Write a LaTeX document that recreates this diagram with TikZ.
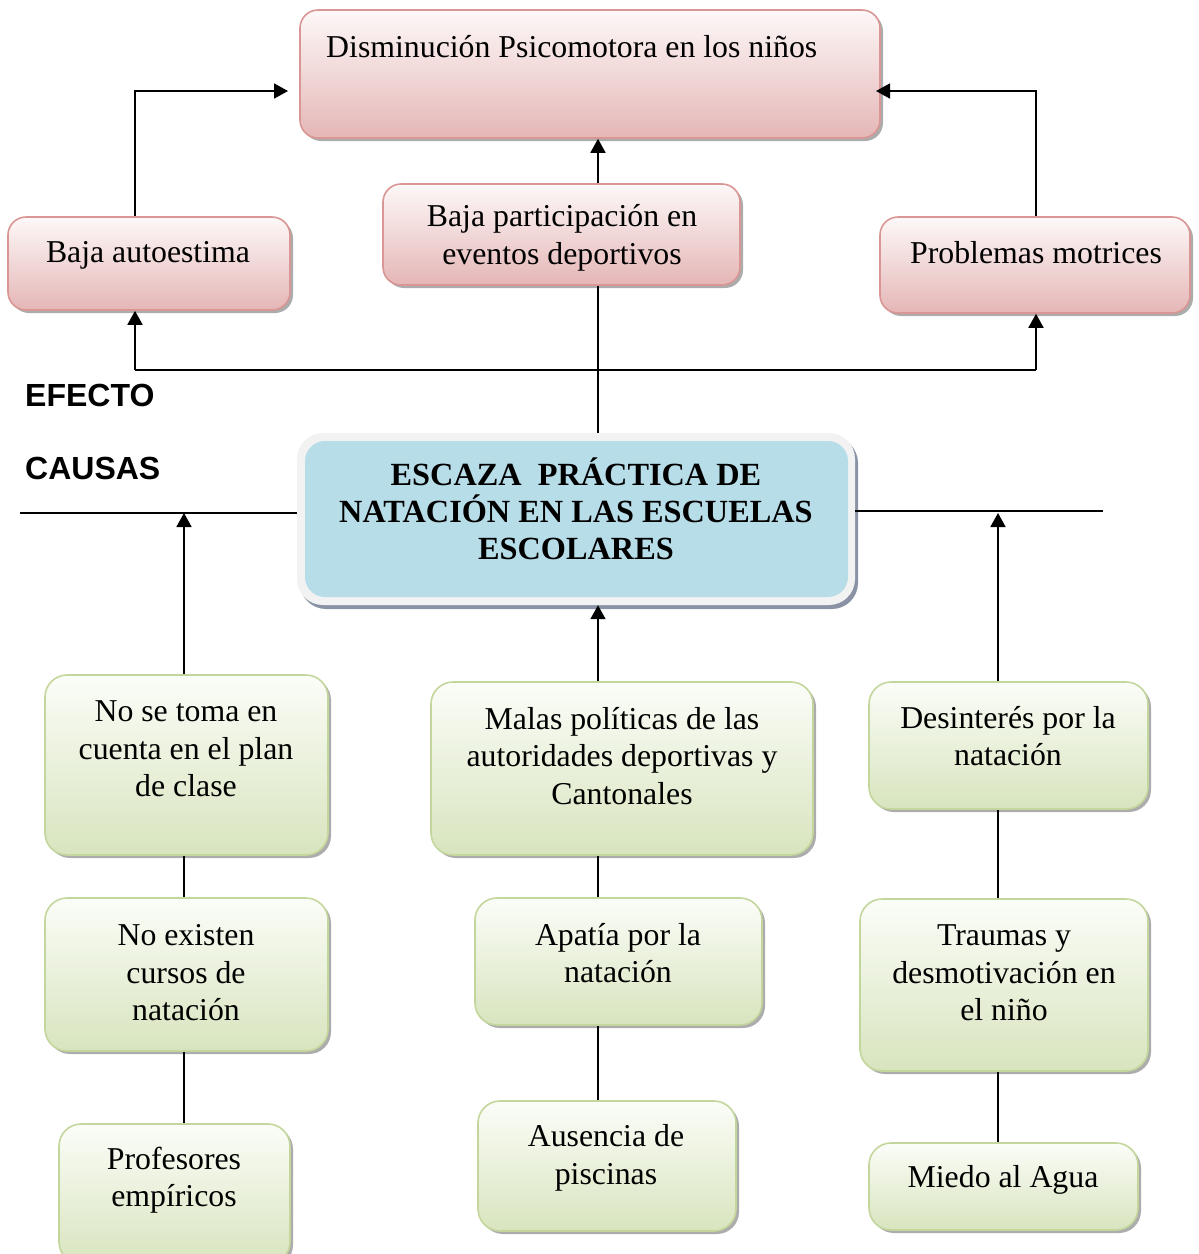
\documentclass[tikz,border=0pt]{standalone}
\usepackage{fontspec}
\setmainfont{Liberation Serif}
\newfontfamily\sansfnt{Liberation Sans}
\usetikzlibrary{arrows.meta,shadows}
\definecolor{pinkTop}{HTML}{FDF8F8}
\definecolor{pinkBot}{HTML}{E5B6B6}
\definecolor{pinkLine}{HTML}{D99694}
\definecolor{grTop}{HTML}{FBFDF8}
\definecolor{grBot}{HTML}{D8E4BE}
\definecolor{grLine}{HTML}{C3D69B}
\definecolor{blueFill}{HTML}{B7DDE8}
\definecolor{outerFill}{HTML}{F2F2F2}
\definecolor{outerShadow}{HTML}{8A93A6}
\tikzset{
  shad/.style={drop shadow={shadow xshift=3pt, shadow yshift=-3pt, fill=gray!65, opacity=1}},
  pinkbox/.style={draw=pinkLine, line width=1.6pt, rounded corners=18pt, top color=pinkTop, bottom color=pinkBot, shad, inner sep=0pt},
  greenbox/.style={draw=grLine, line width=1.6pt, rounded corners=22pt, top color=grTop, bottom color=grBot, shad, inner sep=0pt},
  txt/.style={font=\fontsize{31.8}{37.5}\selectfont, align=center, inner sep=0pt},
  arr/.style={line width=1.8pt, -{Triangle[length=14pt,width=15pt]}},
  ln/.style={line width=1.8pt},
  lab/.style={font=\sansfnt\bfseries\fontsize{32}{38}\selectfont, anchor=west, inner sep=0pt}
}
\begin{document}
\begin{tikzpicture}[x=1pt,y=-1pt]
\useasboundingbox (0,0) rectangle (1199,1254);
% effect boxes
\node[pinkbox, minimum width=580pt, minimum height=128pt] (dis) at (590,74) {};
\node[pinkbox, minimum width=282pt, minimum height=93pt] (aut) at (149,263.5) {};
\node[pinkbox, minimum width=357pt, minimum height=101pt] (par) at (561.5,234.5) {};
\node[pinkbox, minimum width=310pt, minimum height=96pt] (mot) at (1035,265) {};
\node[txt, anchor=west] (dist) at (326,47) {Disminución Psicomotora en los niños};
\node[txt] (autt) at (148,255) {Baja autoestima};
\node[txt] (part) at (562,238) {Baja participación en\\eventos deportivos};
\node[txt] (mott) at (1036,253) {Problemas motrices};
% central box
\node[fill=outerFill, rounded corners=26pt, minimum width=558pt, minimum height=172pt,
      drop shadow={shadow xshift=3pt, shadow yshift=-4pt, fill=outerShadow, opacity=1}] (cen) at (576,519) {};
\node[fill=blueFill, rounded corners=20pt, minimum width=543pt, minimum height=156pt] (ceni) at (576.5,519) {};
\node[txt, font=\bfseries\fontsize{32.3}{37}\selectfont] (cent) at (576,509) {ESCAZA\ \ PRÁCTICA DE\\NATACIÓN EN LAS ESCUELAS\\ESCOLARES};
% labels
\node[lab] (efecto) at (25,395) {EFECTO};
\node[lab] (causas) at (25,468) {CAUSAS};
% cause boxes
\node[greenbox, minimum width=283pt, minimum height=180pt] (l1) at (186.5,765) {};
\node[greenbox, minimum width=283pt, minimum height=153pt] (l2) at (186.5,974.5) {};
\node[greenbox, minimum width=231pt, minimum height=140pt] (l3) at (174.5,1194) {};
\node[greenbox, minimum width=382pt, minimum height=173pt] (m1) at (622,768.5) {};
\node[greenbox, minimum width=287pt, minimum height=127pt] (m2) at (618.5,961.5) {};
\node[greenbox, minimum width=258pt, minimum height=130pt] (m3) at (607,1166) {};
\node[greenbox, minimum width=279pt, minimum height=127pt] (r1) at (1008.5,745.5) {};
\node[greenbox, minimum width=288pt, minimum height=172pt] (r2) at (1004,985) {};
\node[greenbox, minimum width=269pt, minimum height=87pt] (r3) at (1003.5,1186.5) {};
\node[txt] (l1t) at (186,749) {No se toma en\\cuenta en el plan\\de clase};
\node[txt] (l2t) at (186,973) {No existen\\cursos de\\natación};
\node[txt] (l3t) at (174,1180) {Profesores\\empíricos};
\node[txt] (m1t) at (622,756) {Malas políticas de las\\autoridades deportivas y\\Cantonales};
\node[txt] (m2t) at (618,953) {Apatía por la\\natación};
\node[txt] (m3t) at (606,1158) {Ausencia de\\piscinas};
\node[txt] (r1t) at (1008,736) {Desinterés por la\\natación};
\node[txt] (r2t) at (1004,973) {Traumas y\\desmotivación en\\el niño};
\node[txt] (r3t) at (1003,1180) {Miedo al Agua};
% effect connectors
\coordinate (dl) at (288,91);
\coordinate (dr) at (876,91);
\draw[arr] (aut.north -| 135,0) |- (dl);
\draw[arr] (mot.north -| 1036,0) |- (dr);
\draw[arr] (par.north -| 598,0) -- (dis.south -| 598,0);
\coordinate (hl) at (135,370);
\coordinate (hr) at (1036,370);
\draw[ln] (par.south -| 598,0) -- (cen.north -| 598,0);
\draw[ln] (hl) -- (hr);
\draw[arr] (hl) -- (aut.south -| hl);
\draw[arr] (hr) -- (mot.south -| hr);
% cause lines
\coordinate (cll) at (20,513);
\coordinate (crr) at (1103,511);
\draw[ln] (cll) -- (cen.west |- cll);
\draw[ln] (cen.east |- crr) -- (crr);
\draw[arr] (l1.north -| 184,0) -- (184,513);
\draw[arr] (r1.north -| 998,0) -- (998,513);
\draw[arr] (m1.north -| 598,0) -- (cen.south -| 598,0);
\draw[ln] (l1.south -| 184,0) -- (l2.north -| 184,0);
\draw[ln] (l2.south -| 184,0) -- (l3.north -| 184,0);
\draw[ln] (m1.south -| 598,0) -- (m2.north -| 598,0);
\draw[ln] (m2.south -| 598,0) -- (m3.north -| 598,0);
\draw[ln] (r1.south -| 998,0) -- (r2.north -| 998,0);
\draw[ln] (r2.south -| 998,0) -- (r3.north -| 998,0);
\end{tikzpicture}
\end{document}
